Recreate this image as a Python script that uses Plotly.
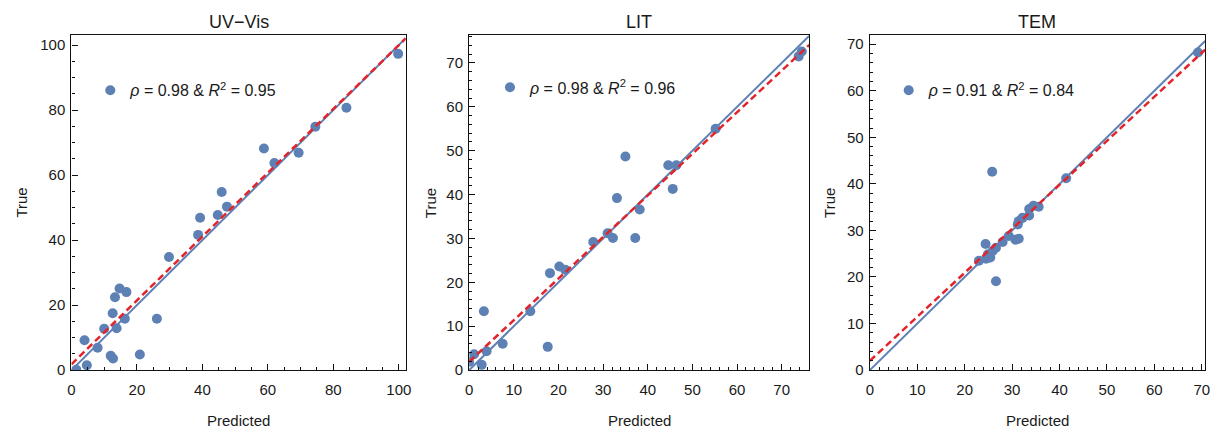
import plotly.graph_objects as go

# ---------------- data ----------------
uv_pred = [99.8, 84.0, 74.5, 58.8, 62.0, 69.4, 45.9, 47.5, 44.7, 39.3, 38.7, 29.8,
           14.7, 16.8, 13.3, 12.6, 16.3, 26.1, 10.0, 13.8, 4.0, 8.0, 12.0, 12.7,
           20.9, 4.7, 1.5]
uv_true = [97.3, 80.7, 74.9, 68.2, 63.7, 66.9, 54.8, 50.3, 47.7, 46.9, 41.6, 34.8,
           25.1, 24.0, 22.4, 17.5, 15.8, 15.8, 12.7, 12.9, 9.2, 6.9, 4.4, 3.6,
           4.8, 1.5, 0.1]

lit_pred = [74.5, 73.8, 55.2, 35.0, 44.6, 46.4, 45.6, 33.1, 38.2, 31.0, 32.2, 37.2,
            27.8, 20.2, 21.5, 18.1, 13.7, 3.3, 7.5, 17.6, 3.9, 1.1, 0.0, 2.8]
lit_true = [72.6, 71.5, 55.0, 48.7, 46.7, 46.7, 41.3, 39.2, 36.6, 31.2, 30.1, 30.1,
            29.2, 23.6, 22.9, 22.1, 13.4, 13.4, 6.0, 5.3, 4.3, 3.6, 1.9, 1.2]

tem_pred = [69.2, 41.4, 25.8, 26.6, 34.5, 35.6, 33.6, 33.6, 32.2, 31.4, 31.2, 29.3,
            30.7, 31.4, 28.0, 26.6, 24.4, 25.9, 24.9, 25.4, 23.0, 24.5]
tem_true = [68.2, 41.2, 42.6, 19.1, 35.3, 35.1, 34.6, 33.2, 32.7, 32.0, 31.3, 28.8,
            28.0, 28.2, 27.5, 26.3, 27.1, 25.6, 24.9, 24.2, 23.5, 23.9]

titles = ["UV\u2212Vis", "LIT", "TEM"]
stat_labels = ["<i>\u03c1</i> = 0.98 & <i>R</i><sup>2</sup> = 0.95",
               "<i>\u03c1</i> = 0.98 & <i>R</i><sup>2</sup> = 0.96",
               "<i>\u03c1</i> = 0.91 & <i>R</i><sup>2</sup> = 0.84"]
fit_intercept = [1.8, 1.9, 2.0]
fit_slope = [0.982, 0.948, 0.945]

x_ranges = [[0, 102.1], [0, 76.2], [0, 70.7]]
y_ranges = [[0, 103.0], [0, 76.3], [0, 71.9]]
major_dtick = [20, 10, 10]
minor_dtick = [5, 2, 2]

# ---------------- styling / layout ----------------
W, H = 1222, 438
BLUE = "#5E81B5"
RED = "#E3242B"
FONT = "Liberation Sans, Arial, sans-serif"
TXT = "#1a1a1a"

x_dom = [[68 / W, 405 / W], [469 / W, 812 / W], [873 / W, 1211 / W]]
y_dom = [1 - 377 / H, 1 - 36 / H]
legend_pos = [(110, 92), (513, 89), (915, 92)]
ylabel_x = [18, 430, 833]

series = [(uv_pred, uv_true), (lit_pred, lit_true), (tem_pred, tem_true)]

fig = go.Figure()
layout = dict(
    width=W, height=H,
    margin=dict(l=0, r=0, t=0, b=0),
    paper_bgcolor="white", plot_bgcolor="white",
    font=dict(family=FONT, size=15, color=TXT),
    showlegend=True,
)
annotations = []

for i, (px, py) in enumerate(series):
    n = "" if i == 0 else str(i + 1)
    xa, ya = "x" + n, "y" + n
    leg = "legend" + n
    fig.add_trace(go.Scatter(
        x=px, y=py, mode="markers", xaxis=xa, yaxis=ya,
        marker=dict(color=BLUE, size=10),
        name=stat_labels[i], legend=leg, showlegend=True))
    xr = x_ranges[i]
    fig.add_trace(go.Scatter(
        x=xr, y=xr, mode="lines", xaxis=xa, yaxis=ya,
        line=dict(color=BLUE, width=2), showlegend=False, hoverinfo="skip"))
    fig.add_trace(go.Scatter(
        x=xr, y=[fit_intercept[i] + fit_slope[i] * v for v in xr],
        mode="lines", xaxis=xa, yaxis=ya,
        line=dict(color=RED, width=2.5, dash="7px,4px"),
        showlegend=False, hoverinfo="skip"))

    common = dict(
        showgrid=False, zeroline=False, showline=True, linecolor="#111",
        linewidth=1.3, mirror=True, ticks="inside", ticklen=6, tickwidth=1.2,
        tickcolor="#111", tickfont=dict(size=15, family=FONT, color=TXT),
    )
    minor = dict(dtick=minor_dtick[i], ticks="inside", ticklen=3,
                 tickwidth=1, tickcolor="#111", showgrid=False)
    layout["xaxis" + n] = dict(
        common, domain=x_dom[i], range=xr, dtick=major_dtick[i], tick0=0,
        anchor=ya, ticklabelstandoff=6, minor=minor)
    layout["yaxis" + n] = dict(
        common, domain=y_dom, range=y_ranges[i], dtick=major_dtick[i], tick0=0,
        anchor=xa, ticklabelstandoff=2, minor=minor)

    lx, ly = legend_pos[i]
    layout[leg] = dict(
        x=(lx - 23) / W, y=1 - ly / H, xanchor="left", yanchor="middle",
        bgcolor="rgba(0,0,0,0)", borderwidth=0,
        font=dict(size=16, family=FONT, color=TXT),
        itemclick=False, itemdoubleclick=False)

    cx = (x_dom[i][0] + x_dom[i][1]) / 2
    annotations.append(dict(text=titles[i], x=cx, y=1 - 22 / H, xref="paper",
                            yref="paper", showarrow=False,
                            xanchor="center", yanchor="middle",
                            font=dict(size=18, family=FONT, color=TXT)))
    annotations.append(dict(text="Predicted", x=cx, y=1 - 428 / H, xref="paper",
                            yref="paper", showarrow=False,
                            xanchor="center", yanchor="middle",
                            font=dict(size=15, family=FONT, color=TXT)))
    annotations.append(dict(text="True", x=ylabel_x[i] / W,
                            y=(y_dom[0] + y_dom[1]) / 2, xref="paper",
                            yref="paper", showarrow=False, textangle=-90,
                            xanchor="center", yanchor="middle",
                            font=dict(size=15, family=FONT, color=TXT)))

layout["annotations"] = annotations
fig.update_layout(**layout)
fig.write_html("out.html")
